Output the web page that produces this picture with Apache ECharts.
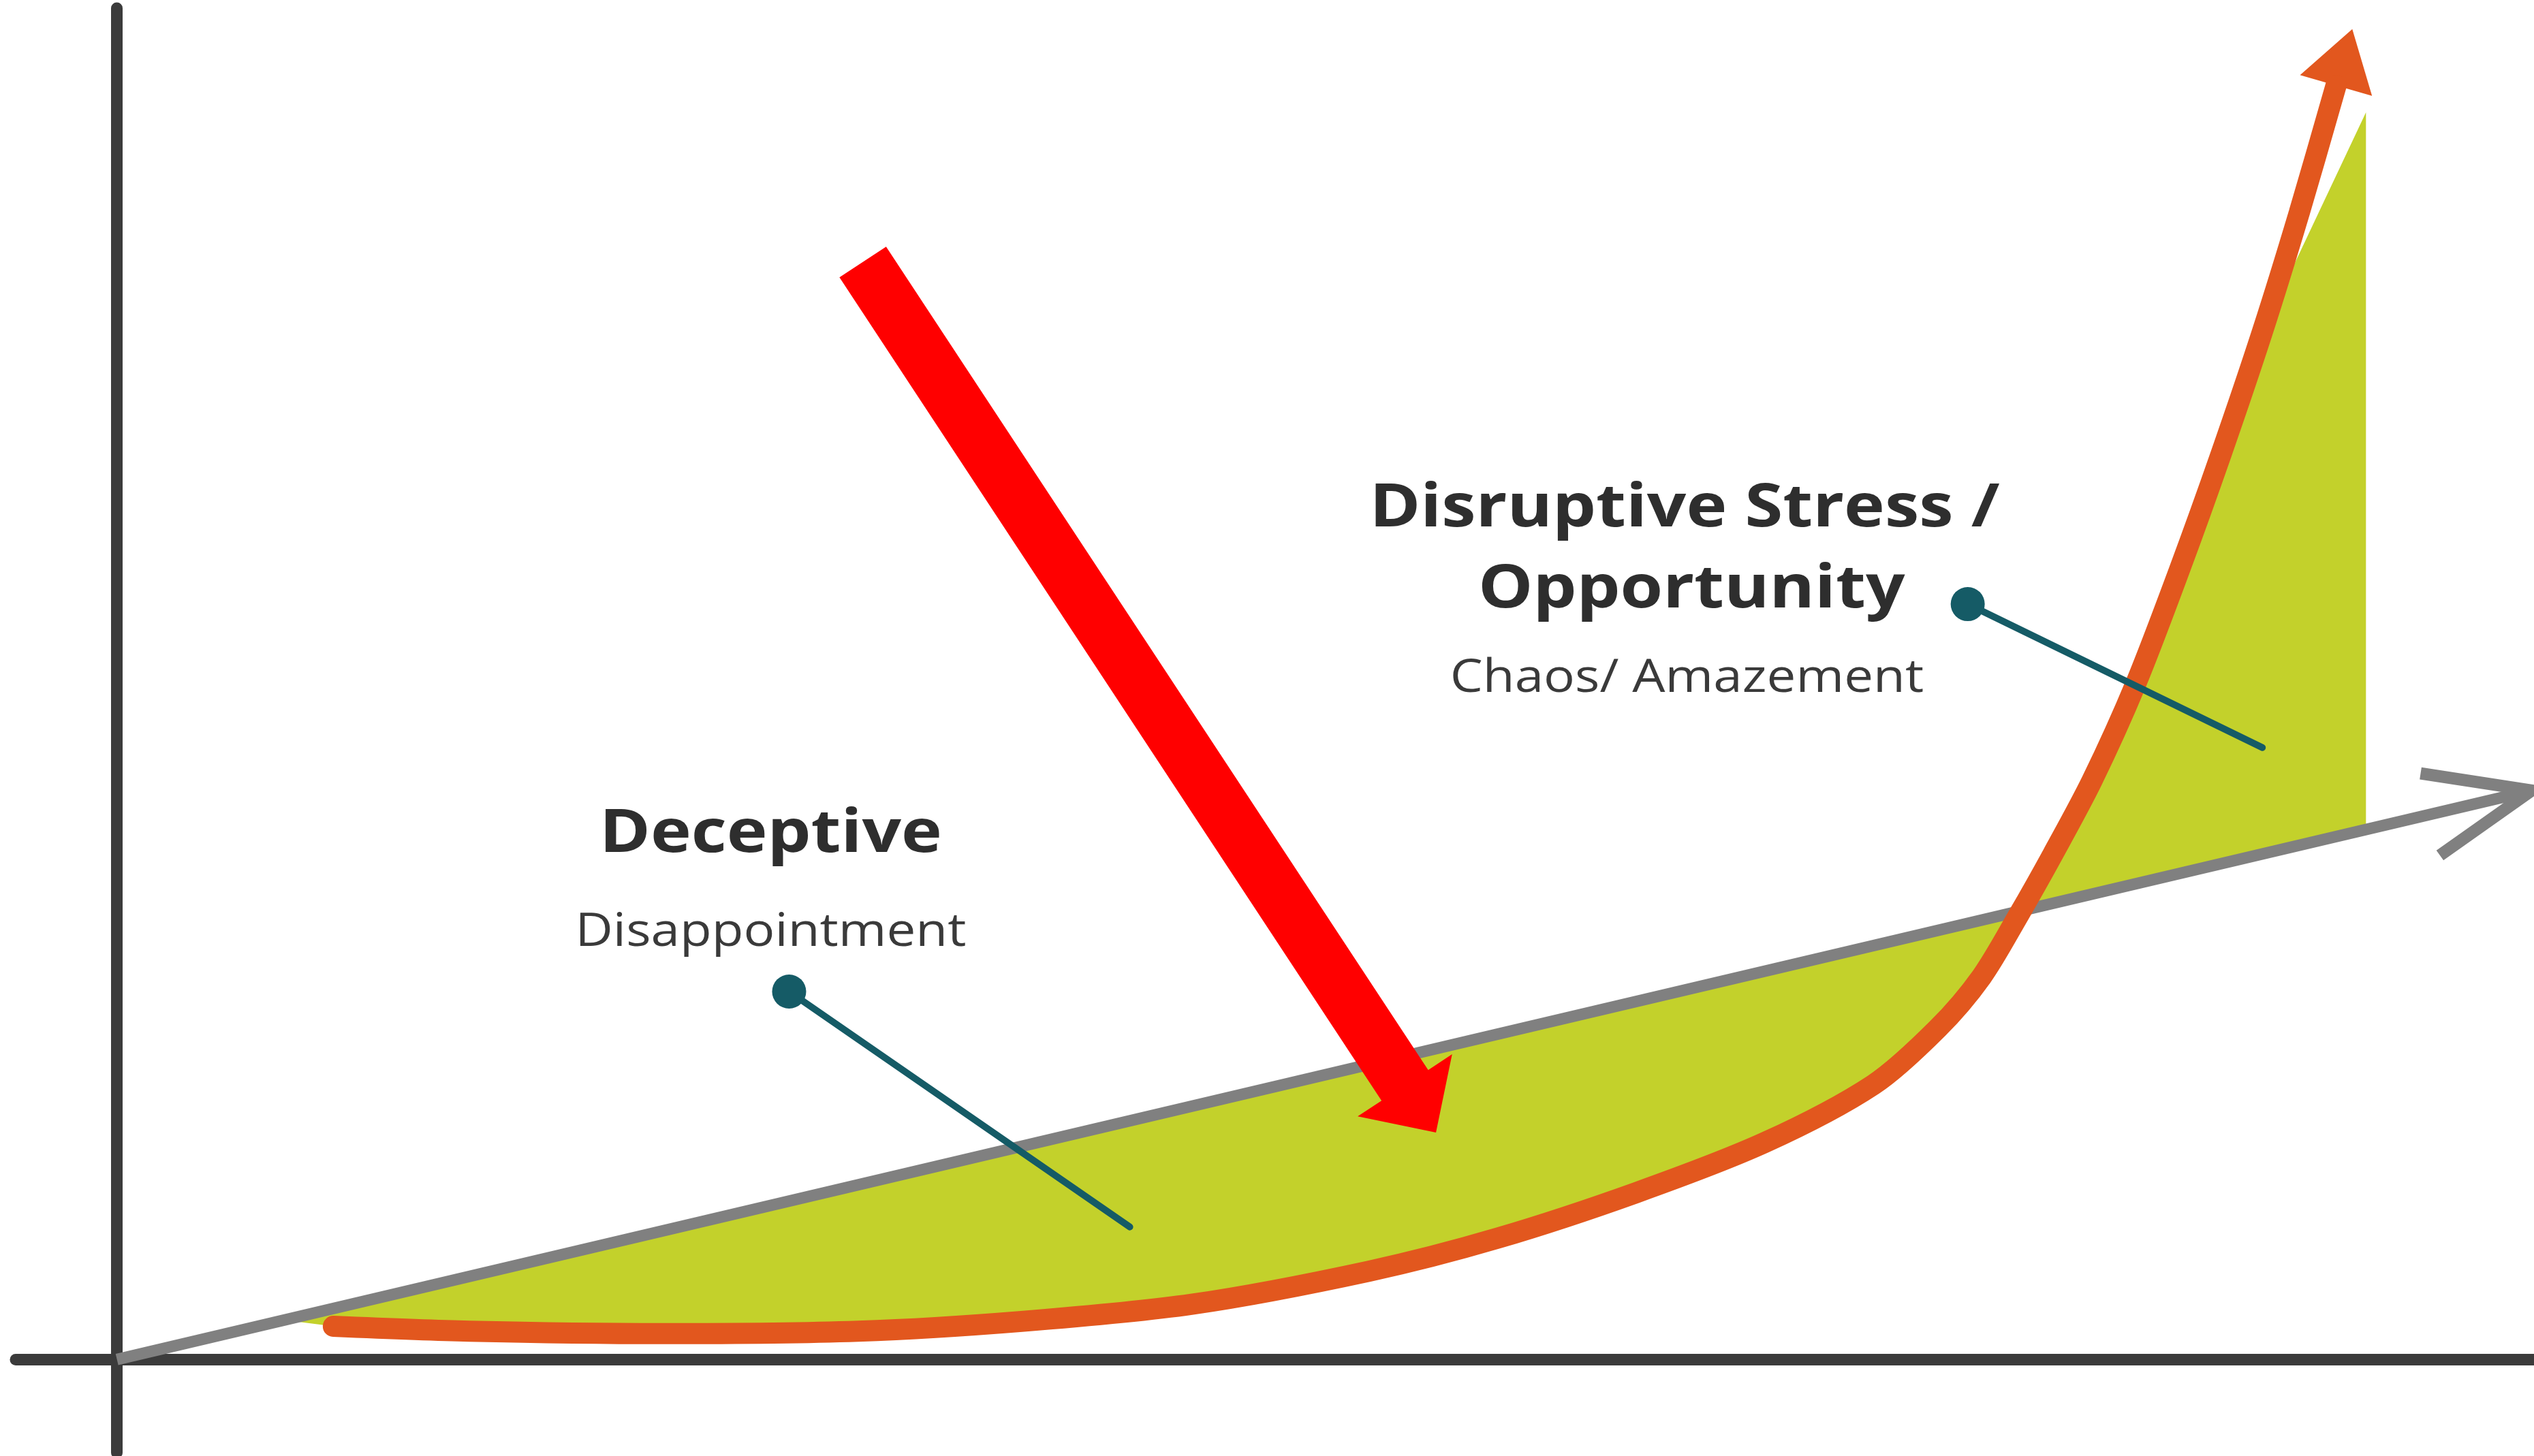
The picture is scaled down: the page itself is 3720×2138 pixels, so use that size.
<!DOCTYPE html>
<html>
<head>
<meta charset="utf-8">
<title>Deceptive vs disruptive growth</title>
<script src="https://cdn.jsdelivr.net/npm/echarts@6/dist/echarts.min.js"></script>
<style>
    html, body {margin: 0; padding: 0; background: #fff;}
    #main {width: 3720px; height: 2138px;}
</style>
</head>
<body>
<div id="main"></div>
<script>
    // linear expectation: start and end of the grey arrow
    var trendLine = [[0, 0], [104.9, 46.4]];
    // exponential reality (orange)
    var growthCurve = [
        [9.4, 2.7], [15.3, 2.3], [23.7, 2.1], [32.2, 2.3], [39.3, 3.1], [46.7, 4.5],
        [54.4, 7.2], [60.0, 9.9], [66.0, 13.6], [71.6, 17.7], [76.3, 22.4], [79.1, 27.0],
        [81.0, 31.2], [82.6, 36.2], [84.1, 41.2], [85.8, 47.2], [87.7, 55.1], [89.6, 64.4],
        [91.4, 73.8], [93.2, 83.8], [94.8, 93.5], [96.4, 103.9]
    ];
    // corners of the green gap that are not on the curve: left tip, top right, bottom right
    var gapCorners = [[7.3, 3.2], [97.7, 101.7], [97.7, 43.2]];

    var calloutStart = [[29.2, 30.0], [80.4, 61.6]];
    var calloutEnd = [[44.0, 10.8], [93.2, 49.9]];

    var headings = ['Deceptive', 'Disruptive Stress /', 'Opportunity'];
    var headingAt = [[28.4, 42.8], [68.1, 69.3], [68.4, 62.7]];
    var subtitles = ['Disappointment', 'Chaos/ Amazement'];
    var subtitleAt = [[28.4, 34.8], [68.2, 55.5]];

    // big red pointer: tail centre, tip
    var pointer = [[32.4, 89.5], [57.3, 18.5]];

    var chart = echarts.init(document.getElementById('main'));

    function fillItem(params, api) {
        var pts = [gapCorners[0]].concat(growthCurve.slice(0, 20), [gapCorners[1], gapCorners[2]]);
        return {
            type: 'polygon',
            shape: {points: pts.map(function (p) { return api.coord(p); })},
            style: {fill: '#c3d12b'}
        };
    }

    function trendHead(params, api) {
        var a = api.coord(trendLine[0]), b = api.coord(trendLine[1]);
        var back = Math.atan2(a[1] - b[1], a[0] - b[0]);
        var len = 165, spread = 22 * Math.PI / 180;
        var p1 = [b[0] + len * Math.cos(back + spread), b[1] + len * Math.sin(back + spread)];
        var p2 = [b[0] + len * Math.cos(back - spread), b[1] + len * Math.sin(back - spread)];
        return {
            type: 'polyline',
            shape: {points: [p1, b, p2]},
            style: {stroke: '#808080', lineWidth: 18, fill: null, lineJoin: 'miter'}
        };
    }

    function curveHead(params, api) {
        var n = growthCurve.length;
        var a = api.coord(growthCurve[n - 2]), b = api.coord(growthCurve[n - 1]);
        var dx = b[0] - a[0], dy = b[1] - a[1], d = Math.sqrt(dx * dx + dy * dy);
        var ux = dx / d, uy = dy / d, nx = -uy, ny = ux;
        var len = 86, half = 55;
        return {
            type: 'polygon',
            shape: {points: [
                [b[0] + half * nx, b[1] + half * ny],
                [b[0] + len * ux, b[1] + len * uy],
                [b[0] - half * nx, b[1] - half * ny]
            ]},
            style: {fill: '#e2571e'}
        };
    }

    function pointerItem(params, api) {
        var t = api.coord(pointer[0]), p = api.coord(pointer[1]);
        var dx = p[0] - t[0], dy = p[1] - t[1], d = Math.sqrt(dx * dx + dy * dy);
        var ux = dx / d, uy = dy / d, nx = -uy, ny = ux;
        var headLen = 83, shaft = 41, head = 83;
        var b = [p[0] - headLen * ux, p[1] - headLen * uy];
        return {
            type: 'polygon',
            shape: {points: [
                [t[0] + shaft * nx, t[1] + shaft * ny],
                [b[0] + shaft * nx, b[1] + shaft * ny],
                [b[0] + head * nx, b[1] + head * ny],
                p,
                [b[0] - head * nx, b[1] - head * ny],
                [b[0] - shaft * nx, b[1] - shaft * ny],
                [t[0] - shaft * nx, t[1] - shaft * ny]
            ]},
            style: {fill: '#ff0000'}
        };
    }

    function textRenderer(texts, font, color, stretch) {
        return function (params, api) {
            var p = api.coord([api.value(0), api.value(1)]);
            return {
                type: 'text',
                x: p[0],
                y: p[1],
                scaleX: stretch,
                style: {
                    text: texts[params.dataIndex],
                    font: font,
                    fill: color,
                    align: 'center',
                    verticalAlign: 'middle',
                    textAlign: 'center',
                    textVerticalAlign: 'middle'
                }
            };
        };
    }

    function callout(i) {
        return {
            type: 'line',
            z: 6,
            data: [
                {value: calloutStart[i], symbol: 'circle', symbolSize: 50},
                {value: calloutEnd[i], symbol: 'none'}
            ],
            showSymbol: true,
            itemStyle: {color: '#155b66'},
            lineStyle: {color: '#155b66', width: 10, cap: 'round'}
        };
    }

    var option = {
        animation: false,
        backgroundColor: '#ffffff',
        grid: {left: 23, right: 0, top: 12, bottom: 5, outerBoundsMode: 'none', containLabel: false},
        xAxis: {
            type: 'value',
            min: -4.4,
            max: 105,
            axisLine: {show: true, onZero: true, lineStyle: {color: '#3b3b3b', width: 17}},
            axisTick: {show: false},
            axisLabel: {show: false},
            splitLine: {show: false}
        },
        yAxis: {
            type: 'value',
            min: -7.6,
            max: 110.2,
            axisLine: {show: true, onZero: true, lineStyle: {color: '#3b3b3b', width: 17}},
            axisTick: {show: false},
            axisLabel: {show: false},
            splitLine: {show: false}
        },
        series: [
            {type: 'custom', z: 1, data: [[0, 0]], renderItem: fillItem, silent: true},
            {
                type: 'line', z: 2, data: trendLine, showSymbol: false, symbol: 'none',
                lineStyle: {color: '#808080', width: 17}
            },
            {type: 'custom', z: 2, data: [[0, 0]], renderItem: trendHead, silent: true},
            {
                type: 'line', z: 3, data: growthCurve, smooth: 0.3,
                showSymbol: false, symbol: 'none',
                lineStyle: {color: '#e2571e', width: 31, cap: 'round'}
            },
            {type: 'custom', z: 3, data: [[0, 0]], renderItem: curveHead, silent: true},
            callout(0),
            callout(1),
            {
                type: 'custom', z: 7, data: headingAt, encode: {x: 0, y: 1}, silent: true,
                renderItem: textRenderer(headings, 'bold 88px "Open Sans"', '#2e2e2e', 1.15)
            },
            {
                type: 'custom', z: 7, data: subtitleAt, encode: {x: 0, y: 1}, silent: true,
                renderItem: textRenderer(subtitles, '67px "Open Sans"', '#3a3a3a', 1.14)
            },
            {type: 'custom', z: 8, data: [[0, 0]], renderItem: pointerItem, silent: true}
        ]
    };

    chart.setOption(option);
</script>
</body>
</html>
